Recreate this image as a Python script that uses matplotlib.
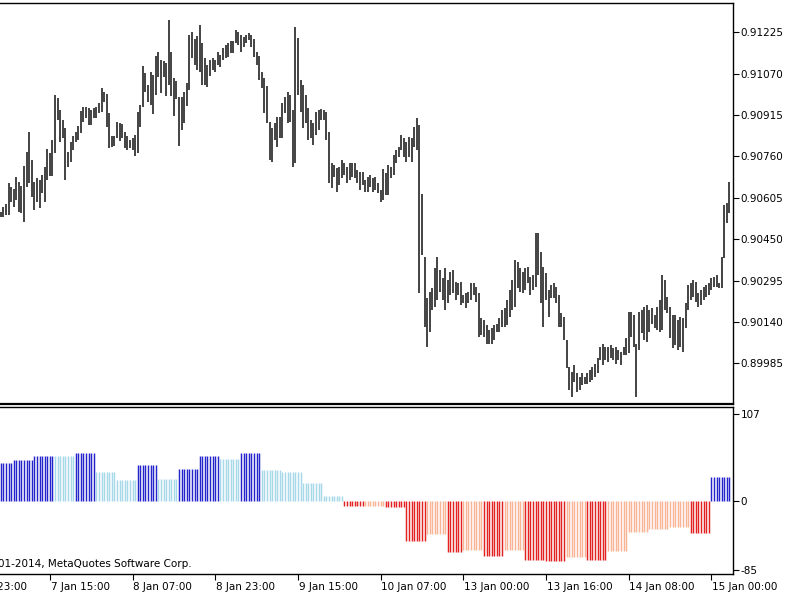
import numpy as np
import matplotlib
matplotlib.use('Agg')
import matplotlib.pyplot as plt
from matplotlib.transforms import blended_transform_factory

plt.rcParams['font.family'] = ['DejaVu Sans']

# M30 bars, prices in points (1e-5)
highs = [
    90553, 90572, 90582, 90660, 90647, 90637, 90682, 90666, 90650, 90726,
    90778, 90851, 90747, 90663, 90678, 90672, 90692, 90722, 90787, 90772,
    90822, 90991, 90981, 90935, 90897, 90866, 90775, 90816, 90835, 90853,
    90875, 90932, 90944, 90944, 90941, 90935, 90941, 90944, 90960, 91016,
    91003, 90994, 90922, 90835, 90835, 90891, 90885, 90882, 90853, 90837,
    90822, 90828, 90841, 90925, 90953, 91100, 91072, 91028, 91075, 91066,
    91137, 91153, 91122, 91116, 91110, 91272, 91153, 91053, 91043, 90982,
    90982, 91000, 91035, 91216, 91228, 91200, 91210, 91253,
    91184, 91128, 91103, 91122, 91128, 91122, 91153, 91141, 91166, 91178,
    91184, 91191, 91191, 91234, 91228, 91216, 91209, 91216, 91224, 91216,
    91200, 91150, 91137, 91078, 91053, 91024, 90891, 90866, 90884, 90909,
    90909, 90962, 90982, 91003, 90991, 90934, 91247, 91203, 91047, 91028,
    90991, 90941, 90897, 90884, 90928, 90934, 90937, 90934, 90928, 90853,
    90734, 90728, 90716, 90722, 90747, 90737, 90722, 90734, 90737, 90734,
    90709, 90703, 90700, 90672, 90684, 90691, 90678, 90684, 90659, 90634,
    90712, 90697, 90728, 90722, 90766, 90784, 90797, 90841, 90828, 90816,
    90834, 90828, 90872, 90904,
    90878, 90618, 90384, 90228, 90253, 90266, 90341, 90384, 90334, 90303,
    90341, 90297, 90328, 90334, 90291, 90284, 90291, 90241, 90247, 90253,
    90284, 90284, 90272, 90247, 90153, 90147, 90128, 90109, 90116, 90128,
    90134, 90153, 90184, 90191, 90222, 90259, 90297, 90372, 90366, 90341,
    90328, 90341, 90347, 90309, 90316, 90472, 90472, 90403, 90347, 90322,
    90259, 90278, 90284, 90272, 90241, 90172, 90159, 90072, 89972, 89953,
    89978, 89947, 89934, 89947, 89934, 89947, 89959, 89972, 89984, 90003,
    90047, 90059, 90047, 90047, 90053, 90041, 90047, 90034, 90028, 90047,
    90078, 90178, 90178, 90166, 90059, 90178, 90184, 90197, 90203, 90184,
    90191, 90166, 90197, 90222, 90316, 90297, 90234, 90197, 90166, 90166,
    90147, 90159, 90153, 90209, 90278, 90284, 90297, 90291, 90247, 90259,
    90272, 90278, 90284, 90303, 90309, 90316, 90284, 90384, 90578, 90586,
    90666,
]
lows = [
    90535, 90535, 90541, 90541, 90591, 90572, 90597, 90553, 90547, 90516,
    90647, 90662, 90610, 90560, 90591, 90566, 90622, 90591, 90672, 90685,
    90685, 90772, 90897, 90816, 90828, 90672, 90722, 90741, 90785, 90816,
    90822, 90847, 90891, 90903, 90878, 90878, 90903, 90903, 90922, 90928,
    90966, 90872, 90791, 90797, 90800, 90828, 90819, 90828, 90791, 90785,
    90791, 90785, 90760, 90772, 90872, 90944, 91000, 90966, 90953, 90919,
    90991, 91059, 90997, 91059, 90987, 91028, 90985, 90910, 90975, 90800,
    90860, 90885, 90950, 91010, 91128, 91103, 91085, 91077,
    91028, 91028, 91022, 91060, 91084, 91078, 91103, 91097, 91122, 91128,
    91134, 91147, 91147, 91184, 91178, 91153, 91172, 91184, 91197, 91172,
    91134, 91103, 91047, 91016, 90922, 90885, 90747, 90741, 90822, 90797,
    90828, 90828, 90922, 90884, 90891, 90722, 90734, 90991, 90928, 90866,
    90884, 90822, 90828, 90803, 90841, 90859, 90897, 90897, 90822, 90659,
    90641, 90684, 90628, 90653, 90678, 90691, 90659, 90672, 90684, 90678,
    90659, 90634, 90653, 90628, 90628, 90647, 90628, 90634, 90622, 90591,
    90597, 90616, 90616, 90680, 90691, 90734, 90759, 90784, 90759, 90741,
    90759, 90741, 90797, 90784,
    90247, 90391, 90122, 90047, 90103, 90184, 90197, 90222, 90253, 90222,
    90184, 90209, 90241, 90247, 90222, 90241, 90203, 90209, 90191, 90209,
    90222, 90241, 90216, 90084, 90091, 90084, 90059, 90059, 90059, 90072,
    90103, 90103, 90122, 90122, 90128, 90159, 90184, 90197, 90266, 90253,
    90247, 90259, 90284, 90241, 90259, 90272, 90316, 90209, 90122, 90222,
    90159, 90228, 90228, 90209, 90122, 90122, 90072, 89966, 89884, 89859,
    89916, 89878, 89884, 89903, 89909, 89909, 89916, 89922, 89934, 89947,
    89997, 89978, 89997, 89991, 90003, 89997, 89984, 89997, 89978, 90016,
    90016, 90022, 90084, 90047, 89859, 90034, 90097, 90072, 90066, 90103,
    90134, 90116, 90109, 90103, 90109, 90184, 90172, 90078, 90041, 90053,
    90034, 90047, 90028, 90116, 90184, 90222, 90234, 90216, 90197, 90203,
    90222, 90234, 90241, 90259, 90272, 90272, 90266, 90266, 90378, 90509,
    90547,
]

# indicator value held per H4 block (number of M30 bars in each block)
hist_vals = [46, 50, 55.5, 55, 58.5, 36, 25, 44, 26.5, 39,
             55, 52, 59, 38, 36, 22, 6, -7, -6, -8,
             -49.5, -41.5, -63.7, -61, -68.5, -61, -73.5, -74, -70, -73.3,
             -62, -38, -35, -32, -40, 29.6]
hist_len = [5, 8, 8, 8, 8, 8, 8, 8, 8, 8,
            8, 8, 8, 8, 8, 8, 8, 8, 8, 8,
            8, 8, 6, 8, 8, 8, 8, 8, 8, 8,
            8, 8, 8, 8, 8, 8]
hist_strong = [1, 1, 1, 0, 1, 0, 0, 1, 0, 1,
               1, 0, 1, 0, 0, 0, 0, 1, 0, 1,
               1, 0, 1, 0, 1, 0, 1, 1, 0, 1,
               0, 0, 0, 0, 1, 1]

price_ticks = [0.91225, 0.91070, 0.90915, 0.90760, 0.90605,
               0.90450, 0.90295, 0.90140, 0.89985]
hist_ticks = [107, 0, -85]
date_idx = [-13, 19, 51, 83, 115, 147, 179, 211, 243, 275]
date_labels = ['6 Jan 23:00', '7 Jan 15:00', '8 Jan 07:00', '8 Jan 23:00',
               '9 Jan 15:00', '10 Jan 07:00', '13 Jan 00:00', '13 Jan 16:00',
               '14 Jan 08:00', '15 Jan 00:00']

hi = np.array(highs) / 1e5
lo = np.array(lows) / 1e5
x = np.arange(len(hi))

vals = np.repeat(hist_vals, hist_len)
strong = np.repeat(hist_strong, hist_len)
cols = []
for v, s in zip(vals, strong):
    if v >= 0:
        cols.append('#2424cc' if s else '#a6d8ea')
    else:
        cols.append('#e32222' if s else '#f8b495')

fig = plt.figure(figsize=(8, 6), dpi=100)
ax1 = fig.add_axes([0, 0.3267, 0.916, 0.6678])
ax2 = fig.add_axes([0, 0.0428, 0.916, 0.2793])

ax1.vlines(x, lo, hi, color='#111111', linewidth=1.1)
ax2.vlines(x, 0, vals, colors=cols, linewidth=1.05)

for ax in (ax1, ax2):
    ax.set_xlim(-0.3, 283.3)
    ax.spines['left'].set_visible(False)
    for s in ('top', 'bottom', 'right'):
        ax.spines[s].set_linewidth(1.0)
        ax.spines[s].set_color('black')
    ax.yaxis.tick_right()
    ax.tick_params(axis='y', direction='out', length=4, width=0.8,
                   pad=1.5, labelsize=7.5)

ax1.set_ylim(0.898324, 0.913341)
ax1.set_yticks(price_ticks)
ax1.set_yticklabels(['%.5f' % p for p in price_ticks])
ax1.set_xticks([])
ax1.spines['bottom'].set_linewidth(1.6)

ax2.set_ylim(-90.8, 116)
ax2.set_yticks(hist_ticks)
ax2.set_yticklabels([str(t) for t in hist_ticks])
ax2.set_xticks([i for i in date_idx if i >= 0])
ax2.set_xticklabels([])
ax2.tick_params(axis='x', direction='out', length=4.5, width=0.8)

tr = blended_transform_factory(ax2.transData, fig.transFigure)
for i, lab in zip(date_idx, date_labels):
    ax2.text(i + 0.3, 1 - 587 / 600, lab, transform=tr, ha='left',
             va='center', fontsize=7.5, clip_on=False)

fig.text(-0.0025, 1 - 564 / 600, '01-2014, MetaQuotes Software Corp.',
         ha='left', va='center', fontsize=7.5)

fig.savefig('out.png', dpi=100)
